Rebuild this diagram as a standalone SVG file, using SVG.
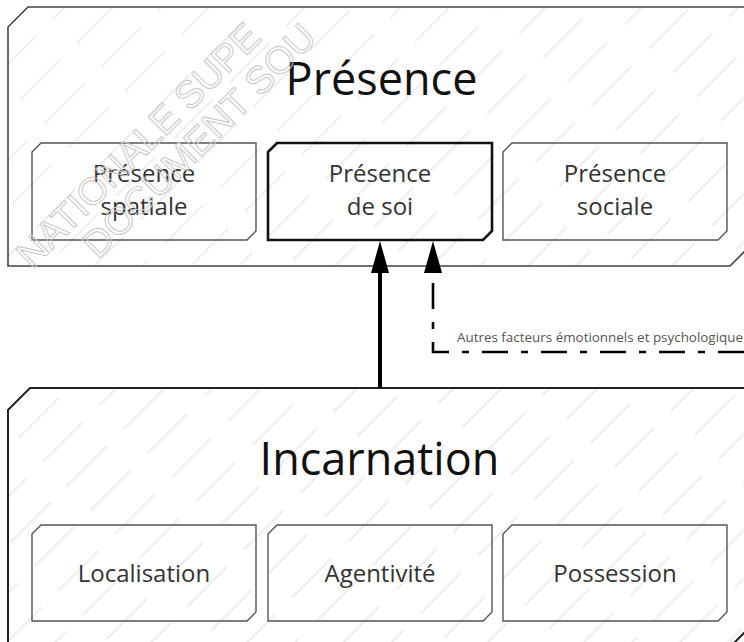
<svg xmlns="http://www.w3.org/2000/svg" width="744" height="642" viewBox="0 0 744 642">
  <defs>
    <pattern id="hatch" width="34" height="80" patternUnits="userSpaceOnUse" patternTransform="rotate(45)">
      <rect width="34" height="80" fill="#ffffff"/>
      <line x1="17" y1="0" x2="17" y2="56" stroke="#e9e4e8" stroke-width="1.4"/>
    </pattern>
    <marker id="arrow" viewBox="0 0 32 18" markerWidth="32" markerHeight="18" refX="0" refY="9" orient="auto-start-reverse" markerUnits="userSpaceOnUse">
      <path d="M0,0 L32,9 L0,18 Z" fill="#000000"/>
    </marker>
    <style>
      .big { fill: url(#hatch); stroke: #444444; stroke-width: 1.6; }
      .sub { fill: url(#hatch); stroke: #555555; stroke-width: 1.4; }
      .subbold { fill: url(#hatch); stroke: #111111; stroke-width: 2.6; }
      .title { font-family: "Open Sans", "DejaVu Sans", sans-serif; font-size: 45px; fill: #111111; text-anchor: middle; }
      .lbl { font-family: "Open Sans", "DejaVu Sans", sans-serif; font-size: 24px; fill: #333333; text-anchor: middle; }
      .small { font-family: "Open Sans", "DejaVu Sans", sans-serif; font-size: 13.5px; fill: #555555; }
      .wm { font-family: "Liberation Sans", "DejaVu Sans", sans-serif; font-size: 38px; fill: none; stroke: #c8c8c8; stroke-width: 1; }
    </style>
  </defs>

  <rect width="744" height="642" fill="#ffffff"/>

  <g id="presence">
    <path class="big" d="M8,27 L28,7 L748,7 L748,248 L730,266 L8,266 Z"/>
    <text class="title" x="381.5" y="95">Présence</text>
  </g>

  <g id="presence-spatiale">
    <path class="sub" d="M32,152 L41,143 L256,143 L256,231 L247,240 L32,240 Z"/>
    <text class="lbl" x="144" y="182">Présence</text>
    <text class="lbl" x="144" y="215">spatiale</text>
  </g>

  <g id="presence-de-soi">
    <path class="subbold" d="M268,152 L277,143 L492,143 L492,231 L483,240 L268,240 Z"/>
    <text class="lbl" x="380" y="182">Présence</text>
    <text class="lbl" x="380" y="215">de soi</text>
  </g>

  <g id="presence-sociale">
    <path class="sub" d="M503,152 L512,143 L727,143 L727,231 L718,240 L503,240 Z"/>
    <text class="lbl" x="615" y="182">Présence</text>
    <text class="lbl" x="615" y="215">sociale</text>
  </g>

  <g id="incarnation">
    <path class="big" style="stroke:#222222;stroke-width:2" d="M8,410 L30,388 L750,388 L750,627 L727,650 L8,650 Z"/>
    <text class="title" x="379.5" y="475">Incarnation</text>
  </g>

  <g id="localisation">
    <path class="sub" d="M32,534 L41,525 L256,525 L256,612 L247,621 L32,621 Z"/>
    <text class="lbl" x="144" y="582">Localisation</text>
  </g>

  <g id="agentivite">
    <path class="sub" d="M268,534 L277,525 L492,525 L492,612 L483,621 L268,621 Z"/>
    <text class="lbl" x="380" y="582">Agentivité</text>
  </g>

  <g id="possession">
    <path class="sub" d="M503,534 L512,525 L727,525 L727,612 L718,621 L503,621 Z"/>
    <text class="lbl" x="615" y="582">Possession</text>
  </g>

  <g id="connectors">
    <line x1="380" y1="388" x2="380" y2="273" stroke="#000000" stroke-width="4" marker-end="url(#arrow)"/>
    <path d="M433,273 L433,352 L750,352" fill="none" stroke="#000000" stroke-width="2.6" stroke-dasharray="26 13 7 13" stroke-dashoffset="49" marker-start="url(#arrow)"/>
    <text class="small" x="457" y="342" textLength="286" lengthAdjust="spacingAndGlyphs">Autres facteurs émotionnels et psychologique</text>
  </g>

  <g id="watermark">
    <text class="wm" transform="translate(32,270) rotate(-45)">NATIONALE SUPE</text>
    <text class="wm" transform="translate(98,260) rotate(-45)">DOCUMENT SOU</text>
  </g>
</svg>
